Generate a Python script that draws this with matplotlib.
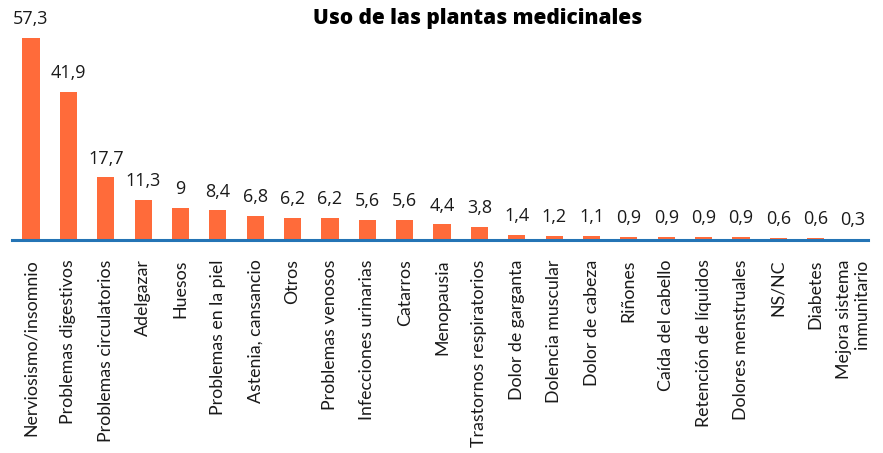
import matplotlib
matplotlib.use('agg')
import matplotlib.pyplot as plt

categories = ['Nerviosismo/insomnio', 'Problemas digestivos', 'Problemas circulatorios',
              'Adelgazar', 'Huesos', 'Problemas en la piel', 'Astenia, cansancio', 'Otros',
              'Problemas venosos', 'Infecciones urinarias', 'Catarros', 'Menopausia',
              'Trastornos respiratorios', 'Dolor de garganta', 'Dolencia muscular',
              'Dolor de cabeza', 'Riñones', 'Caída del cabello', 'Retención de líquidos',
              'Dolores menstruales', 'NS/NC', 'Diabetes', 'Mejora sistema\ninmunitario']
values = [57.3, 41.9, 17.7, 11.3, 9, 8.4, 6.8, 6.2, 6.2, 5.6, 5.6, 4.4, 3.8, 1.4, 1.2,
          1.1, 0.9, 0.9, 0.9, 0.9, 0.6, 0.6, 0.3]

plt.rcParams['font.family'] = ['Open Sans', 'DejaVu Sans']

fig = plt.figure(figsize=(8.83, 4.53), dpi=100)
ax = fig.add_axes([12 / 883, 1 - 240 / 453, 856 / 883, 235 / 453])

x = list(range(len(values)))
ax.bar(x, values, width=0.46, color='#FF6B3A', zorder=2)
for xi, v in zip(x, values):
    txt = f'{v:g}'.replace('.', ',')
    ax.annotate(txt, (xi, v), xytext=(0, 7), textcoords='offset points',
                ha='center', va='bottom', fontsize=13, color='#1a1a1a')

ax.set_xlim(-0.51, len(values) - 0.6)
ax.set_ylim(0, 66.5)
for s in ('top', 'left', 'right'):
    ax.spines[s].set_visible(False)
ax.spines['bottom'].set_color('#2474B5')
ax.spines['bottom'].set_linewidth(2.2)
ax.set_yticks([])
ax.set_xticks(x)
ax.set_xticklabels(categories, rotation=90, fontsize=12.8, ha='center', va='top',
                   multialignment='right', family=['Lato', 'DejaVu Sans'], color='#1a1a1a')
ax.tick_params(axis='x', length=0, pad=14)

fig.text(478 / 883, 1 - 18.5 / 453, 'Uso de las plantas medicinales', ha='center', va='center',
         fontsize=15, fontweight='heavy', family=['Open Sans', 'DejaVu Sans'])

fig.savefig('out.png', dpi=100)
